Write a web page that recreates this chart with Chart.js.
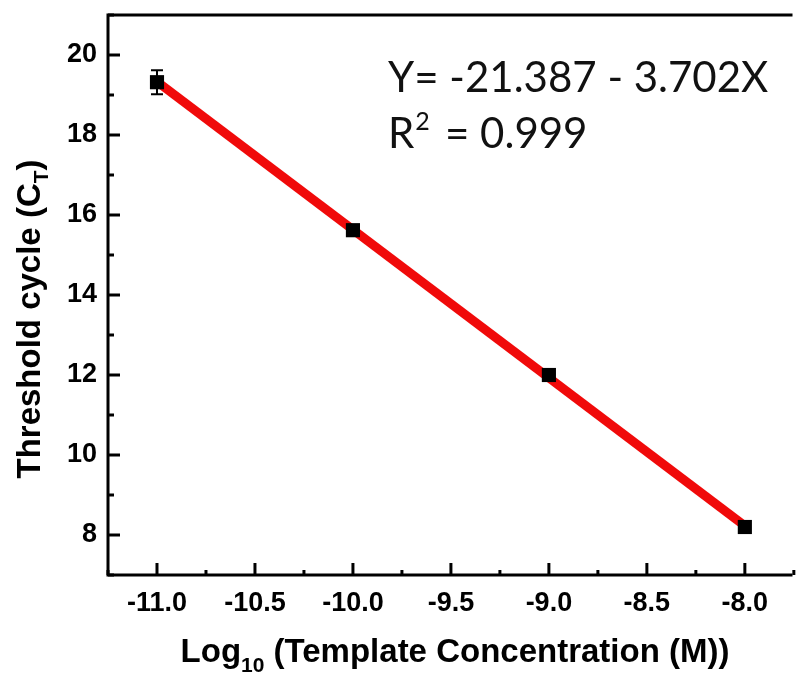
<!DOCTYPE html>
<html>
<head>
<meta charset="utf-8">
<title>Threshold cycle vs template concentration</title>
<script src="https://cdn.jsdelivr.net/npm/chart.js@4.4.1/dist/chart.umd.min.js"></script>
<style>
  html, body { margin: 0; padding: 0; background: #fff; }
  #wrap { width: 796px; height: 675px; }
</style>
</head>
<body>
<div id="wrap"><canvas id="mycanvas" width="796" height="675"></canvas></div>
<script>
// measured points (log10 concentration vs CT), with standard deviation
var logConc = [-11, -10, -9, -8];
var ctMean = [19.32, 15.62, 12.0, 8.2];
var ctErr = [0.30, 0.08, 0.15, 0.08];

// linear fit as printed on the plot
var fitIntercept = -21.387;
var fitSlope = -3.702;
var fitR2 = 0.999;
var fitRange = [-11, -8];

var xTickValues = [-11, -10.5, -10, -9.5, -9, -8.5, -8];
var yTickValues = [8, 10, 12, 14, 16, 18, 20];
var xMinorValues = [-11.25, -10.75, -10.25, -9.75, -9.25, -8.75, -8.25, -7.75];
var yMinorValues = [7, 9, 11, 13, 15, 17, 19, 21];

var labelFont = '"Liberation Sans", Arial, sans-serif';

var points = [];
for (var i = 0; i < logConc.length; i++) {
  points.push({ x: logConc[i], y: ctMean[i] });
}
var fitLine = [];
for (var j = 0; j < fitRange.length; j++) {
  fitLine.push({ x: fitRange[j], y: fitIntercept + fitSlope * fitRange[j] });
}

// axes box, inward ticks, error bars and the text labels
var framePlugin = {
  id: 'frame',
  beforeDatasetsDraw: function(chart) {
    var ctx = chart.ctx;
    var xs = chart.scales.x, ys = chart.scales.y;
    ctx.save();
    ctx.strokeStyle = '#000';
    ctx.lineWidth = 2;
    for (var i = 0; i < logConc.length; i++) {
      var px = xs.getPixelForValue(logConc[i]);
      var top = ys.getPixelForValue(ctMean[i] + ctErr[i]);
      var bot = ys.getPixelForValue(ctMean[i] - ctErr[i]);
      ctx.beginPath();
      ctx.moveTo(px, top); ctx.lineTo(px, bot);
      ctx.moveTo(px - 6, top); ctx.lineTo(px + 6, top);
      ctx.moveTo(px - 6, bot); ctx.lineTo(px + 6, bot);
      ctx.stroke();
    }
    ctx.restore();
  },
  afterDraw: function(chart) {
    var ctx = chart.ctx;
    var a = chart.chartArea;
    var xs = chart.scales.x, ys = chart.scales.y;
    ctx.save();
    ctx.strokeStyle = '#000';
    ctx.lineWidth = 3;
    ctx.lineCap = 'square';
    ctx.beginPath();
    ctx.moveTo(a.right + 5, a.top);
    ctx.lineTo(a.left, a.top);
    ctx.lineTo(a.left, a.bottom);
    ctx.lineTo(a.right + 5, a.bottom);
    ctx.stroke();

    ctx.lineCap = 'butt';
    yTickValues.forEach(function(v) {
      var py = ys.getPixelForValue(v);
      ctx.beginPath(); ctx.moveTo(a.left, py); ctx.lineTo(a.left + 12, py); ctx.stroke();
    });
    yMinorValues.forEach(function(v) {
      var py = ys.getPixelForValue(v);
      ctx.beginPath(); ctx.moveTo(a.left, py); ctx.lineTo(a.left + 6, py); ctx.stroke();
    });
    xTickValues.forEach(function(v) {
      var px = xs.getPixelForValue(v);
      ctx.beginPath(); ctx.moveTo(px, a.bottom); ctx.lineTo(px, a.bottom - 12); ctx.stroke();
    });
    xMinorValues.forEach(function(v) {
      var px = xs.getPixelForValue(v);
      ctx.beginPath(); ctx.moveTo(px, a.bottom); ctx.lineTo(px, a.bottom - 5); ctx.stroke();
    });

    ctx.fillStyle = '#000';
    ctx.textBaseline = 'alphabetic';

    // x axis title with subscript
    var big = 'bold 33px ' + labelFont, small = 'bold 21px ' + labelFont;
    var p1 = 'Log', p2 = '10', p3 = ' (Template Concentration (M))';
    ctx.font = big; var w1 = ctx.measureText(p1).width, w3 = ctx.measureText(p3).width;
    ctx.font = small; var w2 = ctx.measureText(p2).width;
    var x0 = 455 - (w1 + w2 + w3) / 2;
    var base = 662;
    ctx.font = big; ctx.textAlign = 'left';
    ctx.fillText(p1, x0, base);
    ctx.font = small; ctx.fillText(p2, x0 + w1, base + 10);
    ctx.font = big; ctx.fillText(p3, x0 + w1 + w2, base);

    // y axis title with subscript
    var q1 = 'Threshold cycle (C', q2 = 'T', q3 = ')';
    ctx.font = big; var v1 = ctx.measureText(q1).width, v3 = ctx.measureText(q3).width;
    ctx.font = small; var v2 = ctx.measureText(q2).width;
    ctx.translate(40, 319);
    ctx.rotate(-Math.PI / 2);
    var y0 = -(v1 + v2 + v3) / 2;
    ctx.font = big; ctx.fillText(q1, y0, 0);
    ctx.font = small; ctx.fillText(q2, y0 + v1, 8);
    ctx.font = big; ctx.fillText(q3, y0 + v1 + v2, 0);
    ctx.restore();

    // fit equation
    ctx.save();
    ctx.fillStyle = '#111';
    ctx.textAlign = 'left';
    var eqFont = '42px Lato, "Open Sans", sans-serif';
    ctx.font = eqFont;
    ctx.fillText('Y= ' + fitIntercept.toFixed(3) + ' - ' + Math.abs(fitSlope).toFixed(3) + 'X', 388, 92);
    ctx.fillText('R', 388, 148);
    var rw = ctx.measureText('R').width;
    ctx.font = '25px Lato, "Open Sans", sans-serif';
    ctx.fillText('2', 388 + rw + 1, 130);
    ctx.font = eqFont;
    ctx.fillText('= ' + fitR2.toFixed(3), 445, 148);
    ctx.restore();
  }
};

var ctx = document.getElementById('mycanvas');
var chart = new Chart(ctx, {
  type: 'scatter',
  data: {
    datasets: [
      {
        label: 'CT',
        data: points,
        pointStyle: 'rect',
        pointRadius: 10,
        pointBackgroundColor: '#000',
        pointBorderColor: '#000',
        pointBorderWidth: 0,
        showLine: false
      },
      {
        label: 'fit',
        data: fitLine,
        showLine: true,
        borderColor: '#f00a0a',
        borderWidth: 9,
        pointRadius: 0,
        borderCapStyle: 'butt'
      }
    ]
  },
  options: {
    responsive: false,
    animation: false,
    layout: { padding: { top: 15, right: 0, left: 0, bottom: 0 } },
    plugins: { legend: { display: false }, tooltip: { enabled: false } },
    scales: {
      x: {
        type: 'linear',
        min: -11.25,
        max: -7.79,
        grid: { display: false, drawTicks: false },
        border: { display: false },
        afterBuildTicks: function(scale) {
          scale.ticks = xTickValues.map(function(v) { return { value: v }; });
        },
        afterFit: function(scale) {
          scale.height = 100;
          scale.paddingLeft = 0;
          scale.paddingRight = 0;
        },
        ticks: {
          padding: 12,
          color: '#000',
          font: { family: labelFont, size: 27, weight: 'bold' },
          maxRotation: 0,
          callback: function(v) { return v.toFixed(1); }
        }
      },
      y: {
        type: 'linear',
        min: 7,
        max: 21,
        grid: { display: false, drawTicks: false },
        border: { display: false },
        afterBuildTicks: function(scale) {
          scale.ticks = yTickValues.map(function(v) { return { value: v }; });
        },
        afterFit: function(scale) {
          scale.width = 108;
          scale.paddingTop = 0;
          scale.paddingBottom = 0;
        },
        ticks: {
          padding: 11,
          color: '#000',
          font: { family: labelFont, size: 27, weight: 'bold' },
          callback: function(v) { return String(v); }
        }
      }
    }
  },
  plugins: [framePlugin]
});
</script>
</body>
</html>
